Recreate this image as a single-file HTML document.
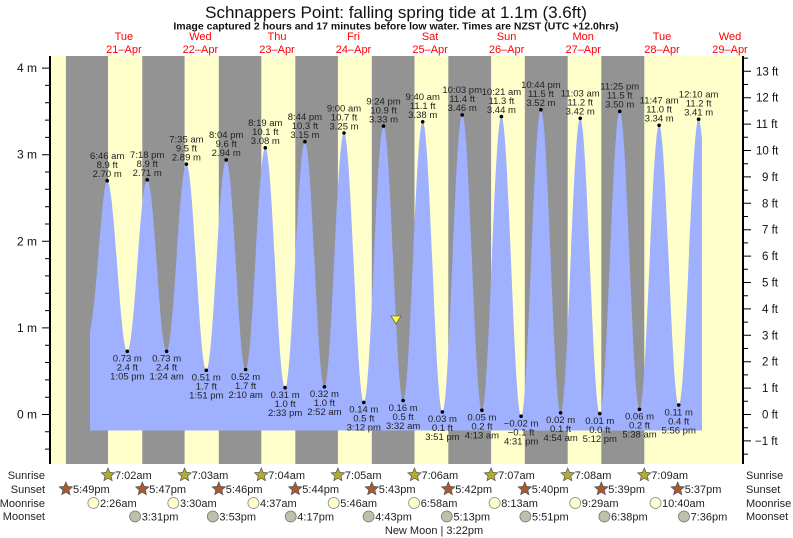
<!DOCTYPE html>
<html><head><meta charset="utf-8"><style>
html,body{margin:0;padding:0;background:#fff;}
svg{display:block;font-family:"Liberation Sans",sans-serif;}
.d text{font-size:9.5px;fill:#222;text-anchor:middle;}
.r text{font-size:11px;fill:#222;}
</style></head><body>
<svg width="793" height="538" viewBox="0 0 793 538" xmlns="http://www.w3.org/2000/svg">
<rect width="793" height="538" fill="#fff"/>
<text x="396" y="18" font-size="17" text-anchor="middle" fill="#111">Schnappers Point: falling  spring tide at 1.1m (3.6ft)</text>
<text x="396" y="29.5" font-size="10.5" font-weight="bold" text-anchor="middle" fill="#111">Image captured 2 hours and 17 minutes before low water. Times are NZST (UTC +12.0hrs)</text>
<g font-size="11" fill="#f00" text-anchor="middle">
<text x="123.9" y="40">Tue</text><text x="123.9" y="53">21–Apr</text>
<text x="200.4" y="40">Wed</text><text x="200.4" y="53">22–Apr</text>
<text x="277" y="40">Thu</text><text x="277" y="53">23–Apr</text>
<text x="353.5" y="40">Fri</text><text x="353.5" y="53">24–Apr</text>
<text x="430.1" y="40">Sat</text><text x="430.1" y="53">25–Apr</text>
<text x="506.6" y="40">Sun</text><text x="506.6" y="53">26–Apr</text>
<text x="583.2" y="40">Mon</text><text x="583.2" y="53">27–Apr</text>
<text x="662" y="40">Tue</text><text x="662" y="53">28–Apr</text>
<text x="730" y="40">Wed</text><text x="730" y="53">29–Apr</text>
</g>
<rect x="50" y="56" width="693" height="408" fill="#ffffcc"/>
<g fill="#939393">
<rect x="65.9" y="56" width="42.1" height="408"/>
<rect x="142.3" y="56" width="42.3" height="408"/>
<rect x="218.8" y="56" width="42.5" height="408"/>
<rect x="295.3" y="56" width="42.6" height="408"/>
<rect x="371.8" y="56" width="42.7" height="408"/>
<rect x="448.3" y="56" width="42.8" height="408"/>
<rect x="524.8" y="56" width="42.9" height="408"/>
<rect x="601.3" y="56" width="43" height="408"/>
</g>
<path fill="#9fb0ff" d="M90,430.5 L90,331.7 C97,300 102,180.7 107.2,180.7
C114.4,180.7 120.1,351.3 127.3,351.3
C134.5,351.3 140,179.8 147.2,179.8
C154.4,179.8 159.4,351.3 166.6,351.3
C173.8,351.3 179.2,164.2 186.4,164.2
C193.6,164.2 199.1,370.3 206.3,370.3
C213.5,370.3 219,159.9 226.2,159.9
C233.4,159.9 238.4,369.5 245.6,369.5
C252.8,369.5 258.1,147.8 265.3,147.8
C272.5,147.8 277.9,387.7 285.1,387.7
C292.3,387.7 297.7,141.7 304.9,141.7
C312.1,141.7 317.2,386.8 324.4,386.8
C331.6,386.8 336.8,133 344,133
C351.2,133 356.6,402.4 363.8,402.4
C371,402.4 376.3,126.1 383.5,126.1
C390.7,126.1 395.9,400.6 403.1,400.6
C410.3,400.6 415.5,121.8 422.7,121.8
C429.9,121.8 435.2,411.9 442.4,411.9
C449.6,411.9 455,114.9 462.2,114.9
C469.4,114.9 474.7,410.2 481.9,410.2
C489.1,410.2 494.2,116.6 501.4,116.6
C508.6,116.6 513.9,416.2 521.1,416.2
C528.3,416.2 533.7,109.7 540.9,109.7
C548.1,109.7 553.4,412.8 560.6,412.8
C567.8,412.8 573,118.3 580.2,118.3
C587.4,118.3 592.6,413.6 599.8,413.6
C607,413.6 612.5,111.4 619.7,111.4
C626.9,111.4 632.3,409.3 639.5,409.3
C646.7,409.3 651.9,125.3 659.1,125.3
C666.3,125.3 671.5,405 678.7,405
C685.9,405 691.4,119.2 698.6,119.2
C700,119.2 701,130 702,139 L702,430.5 Z"/>
<g stroke="#000">
<line x1="50" y1="56" x2="50" y2="464" stroke-width="2"/>
<line x1="743" y1="56" x2="743" y2="464" stroke-width="2"/>
<path stroke-width="1" d="M45,449.1H50M45,431.8H50M42,414.5H50M45,397.2H50M45,379.9H50M45,362.5H50M45,345.2H50M42,327.9H50M45,310.6H50M45,293.3H50M45,275.9H50M45,258.6H50M42,241.3H50M45,224H50M45,206.7H50M45,189.3H50M45,172H50M42,154.7H50M45,137.4H50M45,120.1H50M45,102.7H50M45,85.4H50M42,68.1H50"/>
<path stroke-width="1" d="M743,440.9h8M743,414.5h8M743,388.1h8M743,361.7h8M743,335.3h8M743,308.9h8M743,282.5h8M743,256.1h8M743,229.7h8M743,203.3h8M743,176.9h8M743,150.5h8M743,124.1h8M743,97.7h8M743,71.3h8
M743,454.1h5M743,427.7h5M743,401.3h5M743,374.9h5M743,348.5h5M743,322.1h5M743,295.7h5M743,269.3h5M743,242.9h5M743,216.5h5M743,190.1h5M743,163.7h5M743,137.3h5M743,110.9h5M743,84.5h5M743,58.1h5"/>
</g>
<g font-size="12" fill="#111" text-anchor="end">
<text x="37" y="418.5">0 m</text><text x="37" y="331.9">1 m</text><text x="37" y="245.3">2 m</text><text x="37" y="158.7">3 m</text><text x="37" y="72.1">4 m</text>
</g>
<g font-size="11.5" fill="#111">
<text x="755" y="445">−1 ft</text><text x="762" y="418.5">0 ft</text><text x="762" y="392">1 ft</text><text x="762" y="365.7">2 ft</text><text x="762" y="339.3">3 ft</text><text x="762" y="312.9">4 ft</text><text x="762" y="286.5">5 ft</text><text x="762" y="260.1">6 ft</text><text x="762" y="233.7">7 ft</text><text x="762" y="207.3">8 ft</text><text x="762" y="180.9">9 ft</text><text x="756" y="154.5">10 ft</text><text x="756" y="128.1">11 ft</text><text x="756" y="101.7">12 ft</text><text x="756" y="75.3">13 ft</text>
</g>
<g class="d">
<g transform="translate(107.2,180.7)"><circle r="1.8"/><text y="-3.7">2.70 m</text><text y="-12.7">8.9 ft</text><text y="-21.7">6:46 am</text></g>
<g transform="translate(147.2,179.8)"><circle r="1.8"/><text y="-3.7">2.71 m</text><text y="-12.7">8.9 ft</text><text y="-21.7">7:18 pm</text></g>
<g transform="translate(186.4,164.2)"><circle r="1.8"/><text y="-3.7">2.89 m</text><text y="-12.7">9.5 ft</text><text y="-21.7">7:35 am</text></g>
<g transform="translate(226.2,159.9)"><circle r="1.8"/><text y="-3.7">2.94 m</text><text y="-12.7">9.6 ft</text><text y="-21.7">8:04 pm</text></g>
<g transform="translate(265.3,147.8)"><circle r="1.8"/><text y="-3.7">3.08 m</text><text y="-12.7">10.1 ft</text><text y="-21.7">8:19 am</text></g>
<g transform="translate(304.9,141.7)"><circle r="1.8"/><text y="-3.7">3.15 m</text><text y="-12.7">10.3 ft</text><text y="-21.7">8:44 pm</text></g>
<g transform="translate(344,133)"><circle r="1.8"/><text y="-3.7">3.25 m</text><text y="-12.7">10.7 ft</text><text y="-21.7">9:00 am</text></g>
<g transform="translate(383.5,126.1)"><circle r="1.8"/><text y="-3.7">3.33 m</text><text y="-12.7">10.9 ft</text><text y="-21.7">9:24 pm</text></g>
<g transform="translate(422.7,121.8)"><circle r="1.8"/><text y="-3.7">3.38 m</text><text y="-12.7">11.1 ft</text><text y="-21.7">9:40 am</text></g>
<g transform="translate(462.2,114.9)"><circle r="1.8"/><text y="-3.7">3.46 m</text><text y="-12.7">11.4 ft</text><text y="-21.7">10:03 pm</text></g>
<g transform="translate(501.4,116.6)"><circle r="1.8"/><text y="-3.7">3.44 m</text><text y="-12.7">11.3 ft</text><text y="-21.7">10:21 am</text></g>
<g transform="translate(540.9,109.7)"><circle r="1.8"/><text y="-3.7">3.52 m</text><text y="-12.7">11.5 ft</text><text y="-21.7">10:44 pm</text></g>
<g transform="translate(580.2,118.3)"><circle r="1.8"/><text y="-3.7">3.42 m</text><text y="-12.7">11.2 ft</text><text y="-21.7">11:03 am</text></g>
<g transform="translate(619.7,111.4)"><circle r="1.8"/><text y="-3.7">3.50 m</text><text y="-12.7">11.5 ft</text><text y="-21.7">11:25 pm</text></g>
<g transform="translate(659.1,125.3)"><circle r="1.8"/><text y="-3.7">3.34 m</text><text y="-12.7">11.0 ft</text><text y="-21.7">11:47 am</text></g>
<g transform="translate(698.6,119.2)"><circle r="1.8"/><text y="-3.7">3.41 m</text><text y="-12.7">11.2 ft</text><text y="-21.7">12:10 am</text></g>
<g transform="translate(127.3,351.3)"><circle r="1.8"/><text y="10.3">0.73 m</text><text y="19.3">2.4 ft</text><text y="28.3">1:05 pm</text></g>
<g transform="translate(166.6,351.3)"><circle r="1.8"/><text y="10.3">0.73 m</text><text y="19.3">2.4 ft</text><text y="28.3">1:24 am</text></g>
<g transform="translate(206.3,370.3)"><circle r="1.8"/><text y="10.3">0.51 m</text><text y="19.3">1.7 ft</text><text y="28.3">1:51 pm</text></g>
<g transform="translate(245.6,369.5)"><circle r="1.8"/><text y="10.3">0.52 m</text><text y="19.3">1.7 ft</text><text y="28.3">2:10 am</text></g>
<g transform="translate(285.1,387.7)"><circle r="1.8"/><text y="10.3">0.31 m</text><text y="19.3">1.0 ft</text><text y="28.3">2:33 pm</text></g>
<g transform="translate(324.4,386.8)"><circle r="1.8"/><text y="10.3">0.32 m</text><text y="19.3">1.0 ft</text><text y="28.3">2:52 am</text></g>
<g transform="translate(363.8,402.4)"><circle r="1.8"/><text y="10.3">0.14 m</text><text y="19.3">0.5 ft</text><text y="28.3">3:12 pm</text></g>
<g transform="translate(403.1,400.6)"><circle r="1.8"/><text y="10.3">0.16 m</text><text y="19.3">0.5 ft</text><text y="28.3">3:32 am</text></g>
<g transform="translate(442.4,411.9)"><circle r="1.8"/><text y="10.3">0.03 m</text><text y="19.3">0.1 ft</text><text y="28.3">3:51 pm</text></g>
<g transform="translate(481.9,410.2)"><circle r="1.8"/><text y="10.3">0.05 m</text><text y="19.3">0.2 ft</text><text y="28.3">4:13 am</text></g>
<g transform="translate(521.1,416.2)"><circle r="1.8"/><text y="10.3">−0.02 m</text><text y="19.3">−0.1 ft</text><text y="28.3">4:31 pm</text></g>
<g transform="translate(560.6,412.8)"><circle r="1.8"/><text y="10.3">0.02 m</text><text y="19.3">0.1 ft</text><text y="28.3">4:54 am</text></g>
<g transform="translate(599.8,413.6)"><circle r="1.8"/><text y="10.3">0.01 m</text><text y="19.3">0.0 ft</text><text y="28.3">5:12 pm</text></g>
<g transform="translate(639.5,409.3)"><circle r="1.8"/><text y="10.3">0.06 m</text><text y="19.3">0.2 ft</text><text y="28.3">5:38 am</text></g>
<g transform="translate(678.7,405)"><circle r="1.8"/><text y="10.3">0.11 m</text><text y="19.3">0.4 ft</text><text y="28.3">5:56 pm</text></g>
</g>
<polygon points="391,316 401,316 396,324" fill="#ffff33" stroke="#666" stroke-width="0.8"/>
<g class="r">
<g text-anchor="end"><text x="45" y="479">Sunrise</text><text x="45" y="493">Sunset</text><text x="45" y="507">Moonrise</text><text x="45" y="520">Moonset</text></g>
<text x="746" y="479">Sunrise</text><text x="746" y="493">Sunset</text><text x="746" y="507">Moonrise</text><text x="746" y="520">Moonset</text>
<g fill="#b4ac2c" stroke="#555" stroke-width="0.7">
<path transform="translate(108,475)" d="M0,-7L1.88,-2.59 6.66,-2.16 3.04,0.99 4.11,5.66 0,3.2 -4.11,5.66 -3.04,0.99 -6.66,-2.16 -1.88,-2.59Z"/>
<path transform="translate(184.6,475)" d="M0,-7L1.88,-2.59 6.66,-2.16 3.04,0.99 4.11,5.66 0,3.2 -4.11,5.66 -3.04,0.99 -6.66,-2.16 -1.88,-2.59Z"/>
<path transform="translate(261.3,475)" d="M0,-7L1.88,-2.59 6.66,-2.16 3.04,0.99 4.11,5.66 0,3.2 -4.11,5.66 -3.04,0.99 -6.66,-2.16 -1.88,-2.59Z"/>
<path transform="translate(337.9,475)" d="M0,-7L1.88,-2.59 6.66,-2.16 3.04,0.99 4.11,5.66 0,3.2 -4.11,5.66 -3.04,0.99 -6.66,-2.16 -1.88,-2.59Z"/>
<path transform="translate(414.5,475)" d="M0,-7L1.88,-2.59 6.66,-2.16 3.04,0.99 4.11,5.66 0,3.2 -4.11,5.66 -3.04,0.99 -6.66,-2.16 -1.88,-2.59Z"/>
<path transform="translate(491.1,475)" d="M0,-7L1.88,-2.59 6.66,-2.16 3.04,0.99 4.11,5.66 0,3.2 -4.11,5.66 -3.04,0.99 -6.66,-2.16 -1.88,-2.59Z"/>
<path transform="translate(567.7,475)" d="M0,-7L1.88,-2.59 6.66,-2.16 3.04,0.99 4.11,5.66 0,3.2 -4.11,5.66 -3.04,0.99 -6.66,-2.16 -1.88,-2.59Z"/>
<path transform="translate(644.3,475)" d="M0,-7L1.88,-2.59 6.66,-2.16 3.04,0.99 4.11,5.66 0,3.2 -4.11,5.66 -3.04,0.99 -6.66,-2.16 -1.88,-2.59Z"/>
</g>
<text x="115" y="479">7:02am</text><text x="191.6" y="479">7:03am</text><text x="268.3" y="479">7:04am</text><text x="344.9" y="479">7:05am</text><text x="421.5" y="479">7:06am</text><text x="498.1" y="479">7:07am</text><text x="574.7" y="479">7:08am</text><text x="651.3" y="479">7:09am</text>
<g fill="#a85a30" stroke="#555" stroke-width="0.7">
<path transform="translate(65.9,489)" d="M0,-7L1.88,-2.59 6.66,-2.16 3.04,0.99 4.11,5.66 0,3.2 -4.11,5.66 -3.04,0.99 -6.66,-2.16 -1.88,-2.59Z"/>
<path transform="translate(142.3,489)" d="M0,-7L1.88,-2.59 6.66,-2.16 3.04,0.99 4.11,5.66 0,3.2 -4.11,5.66 -3.04,0.99 -6.66,-2.16 -1.88,-2.59Z"/>
<path transform="translate(218.8,489)" d="M0,-7L1.88,-2.59 6.66,-2.16 3.04,0.99 4.11,5.66 0,3.2 -4.11,5.66 -3.04,0.99 -6.66,-2.16 -1.88,-2.59Z"/>
<path transform="translate(295.3,489)" d="M0,-7L1.88,-2.59 6.66,-2.16 3.04,0.99 4.11,5.66 0,3.2 -4.11,5.66 -3.04,0.99 -6.66,-2.16 -1.88,-2.59Z"/>
<path transform="translate(371.8,489)" d="M0,-7L1.88,-2.59 6.66,-2.16 3.04,0.99 4.11,5.66 0,3.2 -4.11,5.66 -3.04,0.99 -6.66,-2.16 -1.88,-2.59Z"/>
<path transform="translate(448.3,489)" d="M0,-7L1.88,-2.59 6.66,-2.16 3.04,0.99 4.11,5.66 0,3.2 -4.11,5.66 -3.04,0.99 -6.66,-2.16 -1.88,-2.59Z"/>
<path transform="translate(524.8,489)" d="M0,-7L1.88,-2.59 6.66,-2.16 3.04,0.99 4.11,5.66 0,3.2 -4.11,5.66 -3.04,0.99 -6.66,-2.16 -1.88,-2.59Z"/>
<path transform="translate(601.3,489)" d="M0,-7L1.88,-2.59 6.66,-2.16 3.04,0.99 4.11,5.66 0,3.2 -4.11,5.66 -3.04,0.99 -6.66,-2.16 -1.88,-2.59Z"/>
<path transform="translate(677.7,489)" d="M0,-7L1.88,-2.59 6.66,-2.16 3.04,0.99 4.11,5.66 0,3.2 -4.11,5.66 -3.04,0.99 -6.66,-2.16 -1.88,-2.59Z"/>
</g>
<text x="73" y="493">5:49pm</text><text x="149.3" y="493">5:47pm</text><text x="225.8" y="493">5:46pm</text><text x="302.3" y="493">5:44pm</text><text x="378.8" y="493">5:43pm</text><text x="455.3" y="493">5:42pm</text><text x="531.8" y="493">5:40pm</text><text x="608.3" y="493">5:39pm</text><text x="684.7" y="493">5:37pm</text>
<g fill="#ffffcc" stroke="#888" stroke-width="0.8">
<circle cx="93.4" cy="503" r="5.5"/><circle cx="173.3" cy="503" r="5.5"/><circle cx="253.4" cy="503" r="5.5"/><circle cx="333.7" cy="503" r="5.5"/><circle cx="414.1" cy="503" r="5.5"/><circle cx="494.6" cy="503" r="5.5"/><circle cx="575.2" cy="503" r="5.5"/><circle cx="655.5" cy="503" r="5.5"/>
</g>
<text x="100" y="507">2:26am</text><text x="180" y="507">3:30am</text><text x="260" y="507">4:37am</text><text x="340.3" y="507">5:46am</text><text x="420.7" y="507">6:58am</text><text x="501.2" y="507">8:13am</text><text x="581.8" y="507">9:29am</text><text x="662" y="507">10:40am</text>
<g fill="#c0c0aa" stroke="#777" stroke-width="0.8">
<circle cx="135.1" cy="516.5" r="5.5"/><circle cx="212.8" cy="516.5" r="5.5"/><circle cx="290.7" cy="516.5" r="5.5"/><circle cx="368.6" cy="516.5" r="5.5"/><circle cx="446.8" cy="516.5" r="5.5"/><circle cx="525.4" cy="516.5" r="5.5"/><circle cx="604.4" cy="516.5" r="5.5"/><circle cx="684" cy="516.5" r="5.5"/>
</g>
<text x="141.7" y="520.5">3:31pm</text><text x="219.4" y="520.5">3:53pm</text><text x="297.3" y="520.5">4:17pm</text><text x="375.2" y="520.5">4:43pm</text><text x="453.4" y="520.5">5:13pm</text><text x="532" y="520.5">5:51pm</text><text x="611" y="520.5">6:38pm</text><text x="690.6" y="520.5">7:36pm</text>
<text x="434" y="534" font-size="9.5" text-anchor="middle">New Moon | 3:22pm</text>
</g>
</svg>
</body></html>
